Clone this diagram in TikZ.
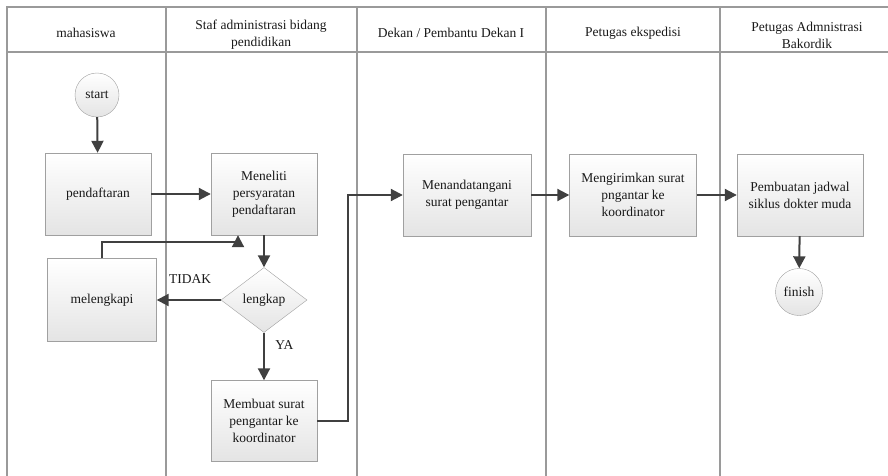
\documentclass[tikz,border=0pt]{standalone}
\usepackage{fontspec}
\setmainfont{Liberation Serif}
\usepackage{xcolor}
\usetikzlibrary{positioning,arrows.meta,shapes.geometric,calc}
\definecolor{LaneGray}{HTML}{9A9A9A}
\definecolor{FlowDark}{HTML}{404040}
\definecolor{BoxEdge}{HTML}{A0A0A0}
\definecolor{BoxShade}{HTML}{E4E4E4}

\begin{document}
\begin{tikzpicture}[x=1pt,y=-1pt,
          every node/.style={font=\fontsize{13.5}{17}\selectfont, text=black!90},
          lane/.style={draw=LaneGray,line width=1.2pt},
          proc/.style={draw=BoxEdge, top color=white, bottom color=BoxShade,
            minimum width=106pt, minimum height=82pt, align=center, inner sep=2pt},
          term/.style={circle, draw=BoxEdge, top color=white, bottom color=BoxShade,
            inner sep=0pt},
          decide/.style={diamond, draw=BoxEdge, top color=white, bottom color=BoxShade,
            minimum width=86pt, minimum height=65pt, inner sep=0pt},
          ar/.style={-{Triangle[length=12pt,width=12pt]},FlowDark,line width=2pt}]
        \useasboundingbox (0,0) rectangle (888,476);
        % lanes
        \draw[lane] (7,478) -- (7,7) -- (900,7);
        \draw[lane] (7,52) -- (900,52);
        \foreach \lx in {166,357,546,720}
          \draw[lane] (\lx,7) -- (\lx,478);
        \node[align=center] (h1) at (86,33) {mahasiswa};
        \node[align=center] (h2) at (261,35) {Staf administrasi bidang\\pendidikan};
        \node[align=center] (h3) at (451,33) {Dekan / Pembantu Dekan I};
        \node[align=center] (h4) at (633,33) {Petugas ekspedisi};
        \node[align=center] (h5) at (807,35) {Petugas Admnistrasi\\Bakordik};
        % nodes
        \node[term, minimum size=44pt] (start) at (97,95) {start};
        \node[proc] (daftar) at (98,194) {pendaftaran};
        \node[proc] (teliti) at (264,194) {Meneliti\\persyaratan\\pendaftaran};
        \node[decide] (lengkap) at (264,300) {lengkap};
        \node[proc, minimum width=109pt, minimum height=83pt] (lengkapi) at (102,300) {melengkapi};
        \node[proc, minimum height=81pt] (surat) at (264,421) {Membuat surat\\pengantar ke\\koordinator};
        \node[proc, minimum width=128pt] (ttd) at (467,195) {Menandatangani\\surat pengantar};
        \node[proc, minimum width=127pt] (kirim) at (633,195) {Mengirimkan surat\\pngantar ke\\koordinator};
        \node[proc, minimum width=126pt] (jadwal) at (800,195) {Pembuatan jadwal\\siklus dokter muda};
        \node[term, minimum size=47pt] (finish) at (799,292) {finish};
        % connectors
        \draw[ar] (start) -- (daftar);
        \draw[ar] (daftar) -- (teliti);
        \draw[ar] (teliti) -- (lengkap);
        \draw[ar] (lengkap) -- node[pos=0.48, above=12pt] (tidak) {TIDAK} (lengkapi);
        \draw[ar] (lengkap) -- node[pos=0.25, right=7pt] (ya) {YA} (surat);
        \draw[ar] (lengkapi.north) -- ++(0,-16) -| ([xshift=-26pt]teliti.south);
        \draw[ar] (surat.east) -- ++(31,0) |- (ttd.west);
        \draw[ar] (ttd) -- (kirim);
        \draw[ar] (kirim) -- (jadwal);
        \draw[ar] (jadwal) -- (finish);
      \end{tikzpicture}
\end{document}
